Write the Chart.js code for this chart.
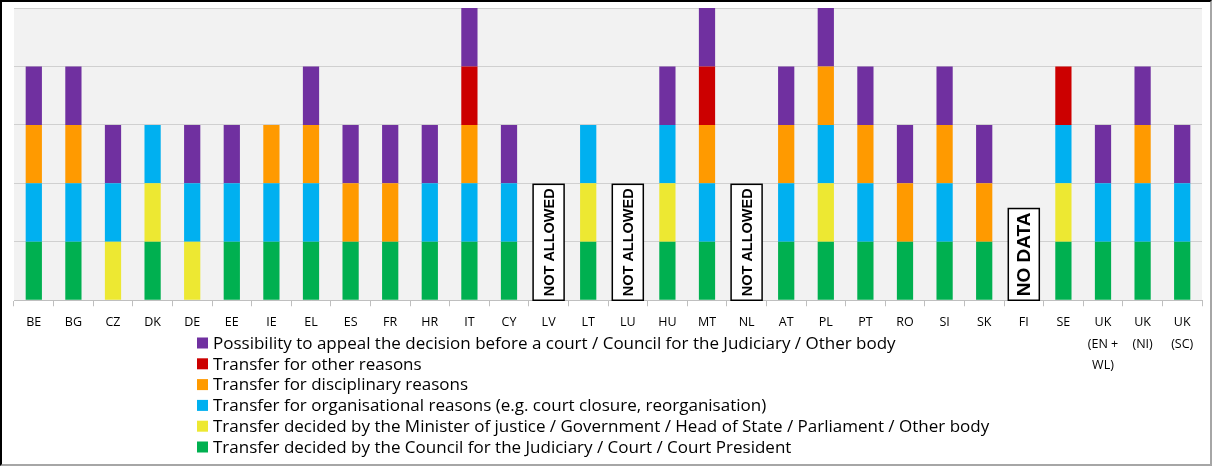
<!DOCTYPE html>
<html>
<head>
<meta charset="utf-8">
<script src="https://cdn.jsdelivr.net/npm/chart.js@4/dist/chart.umd.min.js"></script>
<style>
  body { margin: 0; background: #fff; }
  #wrap {
    width: 1212px; height: 466px; box-sizing: border-box;
    border-left: 2px solid #000; border-top: 2px solid #000;
    border-right: 2px solid #a6a6a6; border-bottom: 2px solid #a6a6a6;
    position: relative;
  }
  #wrap canvas { display: block; }
</style>
</head>
<body>
<div id="wrap"><canvas id="transferChart" width="1208" height="462"></canvas></div>
<script>
// categories (member states)
const countries = ['BE', 'BG', 'CZ', 'DK', 'DE', 'EE', 'IE', 'EL', 'ES', 'FR', 'HR', 'IT', 'CY', 'LV', 'LT',
    'LU', 'HU', 'MT', 'NL', 'AT', 'PL', 'PT', 'RO', 'SI', 'SK', 'FI', 'SE',
    ['UK', '(EN +', 'WL)'], ['UK', '(NI)'], ['UK', '(SC)']];

// one row per answer, 1 = ticked
const byCouncil      = [1,1,0,1,0,1,1,1,1,1,1,1,1,0,1,0,1,1,0,1,1,1,1,1,1,0,1,1,1,1];
const byMinister     = [0,0,1,1,1,0,0,0,0,0,0,0,0,0,1,0,1,0,0,0,1,0,0,0,0,0,1,0,0,0];
const organisational = [1,1,1,1,1,1,1,1,0,0,1,1,1,0,1,0,1,1,0,1,1,1,0,1,0,0,1,1,1,1];
const disciplinary   = [1,1,0,0,0,0,1,1,1,1,0,1,0,0,0,0,0,1,0,1,1,1,1,1,1,0,0,0,1,0];
const otherReasons   = [0,0,0,0,0,0,0,0,0,0,0,1,0,0,0,0,0,1,0,0,0,0,0,0,0,0,1,0,0,0];
const appeal         = [1,1,1,0,1,1,0,1,1,1,1,1,1,0,0,0,1,1,0,1,1,1,1,1,1,0,0,1,1,1];

const seriesNames = [
    'Transfer decided by the Council for the Judiciary / Court / Court President',
    'Transfer decided by the Minister of justice / Government / Head of State / Parliament / Other body',
    'Transfer for organisational reasons (e.g. court closure, reorganisation)',
    'Transfer for disciplinary reasons',
    'Transfer for other reasons',
    'Possibility to appeal the decision before a court / Council for the Judiciary / Other body'
];
const seriesColors = ['#00b050', '#ede832', '#00b0f0', '#ff9a00', '#cc0000', '#7030a0'];
const seriesData = [byCouncil, byMinister, organisational, disciplinary, otherReasons, appeal];

// boxed notes over some columns
const notes = [
    { country: 'LV', text: 'NOT ALLOWED' },
    { country: 'LU', text: 'NOT ALLOWED' },
    { country: 'NL', text: 'NOT ALLOWED' },
    { country: 'FI', text: 'NO DATA' }
];
const noteFontSize = { 'NOT ALLOWED': 14.5, 'NO DATA': 19 };

const plotBg = {
    id: 'plotBg',
    beforeDraw(chart) {
        const { ctx, chartArea: a } = chart;
        ctx.save();
        ctx.fillStyle = '#f2f2f2';
        ctx.fillRect(a.left, a.top, a.right - a.left, a.bottom - a.top);
        ctx.restore();
    }
};

const noteBoxes = {
    id: 'noteBoxes',
    afterDatasetsDraw(chart) {
        const { ctx } = chart;
        const x = chart.scales.x, y = chart.scales.y;
        ctx.save();
        notes.forEach(n => {
            ctx.font = 'bold ' + noteFontSize[n.text] + 'px "Liberation Sans", Arial, sans-serif';
            const idx = countries.indexOf(n.country);
            const cx = x.getPixelForValue(idx);
            const bottom = y.getPixelForValue(0);
            const h = ctx.measureText(n.text).width + 8;
            const w = 31;
            ctx.fillStyle = '#fff';
            ctx.fillRect(cx - w / 2, bottom - h, w, h);
            ctx.strokeStyle = '#000';
            ctx.lineWidth = 1.5;
            ctx.strokeRect(cx - w / 2, bottom - h, w, h);
            ctx.translate(cx, bottom - h / 2);
            ctx.rotate(-Math.PI / 2);
            ctx.fillStyle = '#000';
            ctx.textAlign = 'center';
            ctx.textBaseline = 'middle';
            ctx.fillText(n.text, 0, 1);
            ctx.setTransform(1, 0, 0, 1, 0, 0);
        });
        ctx.restore();
    }
};

// vertical legend, last series on top
const listLegend = {
    id: 'listLegend',
    afterDraw(chart) {
        const { ctx } = chart;
        const sets = chart.data.datasets.slice().reverse();
        const left = 195, top = 341, step = 20.8;
        ctx.save();
        ctx.font = '17px "Open Sans", sans-serif';
        ctx.textBaseline = 'middle';
        sets.forEach((ds, i) => {
            const cy = top + i * step;
            ctx.fillStyle = ds.backgroundColor;
            ctx.fillRect(left, cy - 5.5, 11, 11);
            ctx.fillStyle = '#000';
            ctx.fillText(ds.label, left + 16, cy + 1);
        });
        ctx.restore();
    }
};

const ctx = document.getElementById('transferChart').getContext('2d');
const chart = new Chart(ctx, {
    type: 'bar',
    data: {
        labels: countries,
        datasets: seriesNames.map((name, i) => ({
            label: name,
            data: seriesData[i],
            backgroundColor: seriesColors[i],
            borderWidth: 0,
            categoryPercentage: 1,
            barPercentage: 0.41
        }))
    },
    options: {
        responsive: false,
        animation: false,
        layout: { padding: { left: 12, right: 8, top: 6, bottom: 82 } },
        plugins: {
            legend: { display: false },
            tooltip: { enabled: false }
        },
        scales: {
            x: {
                stacked: true,
                grid: { offset: true, drawOnChartArea: false, color: '#bfbfbf', tickLength: 6 },
                border: { color: '#bfbfbf' },
                ticks: {
                    color: '#000',
                    font: { family: '"Open Sans", sans-serif', size: 12.5, lineHeight: 1.7 },
                    padding: 6,
                    maxRotation: 0,
                    autoSkip: false
                }
            },
            y: {
                stacked: true,
                min: 0,
                max: 5,
                ticks: { display: false, stepSize: 1 },
                grid: { color: '#d0d0d0', drawTicks: false },
                border: { display: false }
            }
        }
    },
    plugins: [plotBg, noteBoxes, listLegend]
});
</script>
</body>
</html>
